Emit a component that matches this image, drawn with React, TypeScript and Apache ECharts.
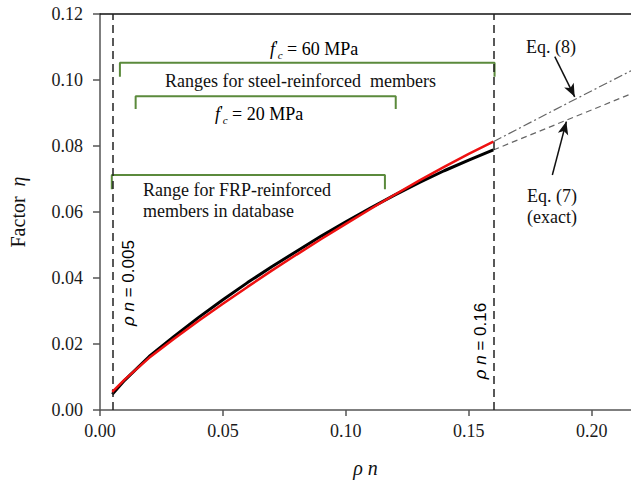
import React, { useEffect, useRef } from "react";
import * as echarts from "echarts";

// ---- data ----
const rhoN = [0.005, 0.01, 0.02, 0.03, 0.04, 0.05, 0.06, 0.07, 0.08, 0.09, 0.1, 0.11, 0.12, 0.13, 0.14, 0.15, 0.16];
const eq7Exact = [0.0048, 0.009, 0.0162, 0.0222, 0.028, 0.0334, 0.0386, 0.0435, 0.0481, 0.0527, 0.057, 0.0612, 0.0652, 0.069, 0.0725, 0.0757, 0.0788];
const eq8 = [0.0055, 0.0092, 0.0158, 0.0215, 0.027, 0.0322, 0.0373, 0.0423, 0.0471, 0.0518, 0.0564, 0.0609, 0.0653, 0.0696, 0.0737, 0.0776, 0.0813];
const extRhoN = [0.16, 0.19, 0.216];
const eq7Ext = [0.0788, 0.0879, 0.0958];
const eq8Ext = [0.0813, 0.0929, 0.1028];
const limitLines = [0.005, 0.16];
// range brackets: [xStart, xEnd, yBar, yTickEnd]
const bracketFc60 = [0.0081, 0.1605, 0.1052, 0.101];
const bracketFc20 = [0.0145, 0.1203, 0.0951, 0.0912];
const bracketFRP = [0.0048, 0.1159, 0.0712, 0.0669];
// arrows: [xFrom, yFrom, xTo, yTo]
const arrowEq8 = [0.185, 0.1071, 0.1931, 0.0949];
const arrowEq7 = [0.184, 0.0712, 0.1897, 0.0874];
const xTicks = { min: 0, max: 0.216, interval: 0.05 };
const yTicks = { min: 0, max: 0.12, interval: 0.02 };

const SERIF = "'Liberation Serif', 'Times New Roman', serif";
const SANS = "'Liberation Sans', Arial, sans-serif";
const GREEN = "#5b8a3c";

function bracket(b: number[]) {
  return [
    [b[0], b[3]],
    [b[0], b[2]],
    [b[1], b[2]],
    [b[1], b[3]],
  ];
}

export default function App() {
  const ref = useRef<HTMLDivElement>(null);
  useEffect(() => {
    if (!ref.current) return;
    const chart = echarts.init(ref.current, null, { renderer: "svg" });
    const bracketSeries = (b: number[]) => ({
      type: "line",
      data: bracket(b),
      symbol: "none",
      silent: true,
      lineStyle: { color: GREEN, width: 2 },
      z: 3,
    });
    const fcRich = {
      i: { fontFamily: SERIF, fontStyle: "italic", fontSize: 18, lineHeight: 22, color: "#111" },
      p: { fontFamily: SERIF, fontSize: 15, lineHeight: 16, verticalAlign: "top", color: "#111" },
      s: { fontFamily: SERIF, fontStyle: "italic", fontSize: 11, lineHeight: 12, verticalAlign: "bottom", color: "#111" },
      n: { fontFamily: SERIF, fontSize: 18, lineHeight: 22, color: "#111" },
    };
    const vRich = {
      i: { fontFamily: SANS, fontStyle: "italic", fontSize: 17, color: "#333" },
      n: { fontFamily: SANS, fontSize: 17, color: "#333" },
    };
    chart.setOption({
      animation: false,
      grid: { left: 100, right: 0, top: 14, bottom: 77, containLabel: false, outerBoundsMode: "none" },
      xAxis: [
        {
          type: "value",
          min: xTicks.min,
          max: xTicks.max,
          interval: xTicks.interval,
          name: "ρ n",
          nameLocation: "middle",
          nameGap: 48,
          nameTextStyle: { fontFamily: SERIF, fontStyle: "italic", fontSize: 20, color: "#111" },
          axisLine: { lineStyle: { color: "#555", width: 1.5 } },
          axisTick: { inside: false, length: 6, lineStyle: { color: "#555", width: 1.5 } },
          axisLabel: {
            margin: 12,
            fontFamily: SERIF,
            fontSize: 18,
            color: "#1a1a1a",
            showMaxLabel: false,
            formatter: (v: number) => (Math.abs(v / 0.05 - Math.round(v / 0.05)) < 1e-6 ? v.toFixed(2) : ""),
          },
          splitLine: { show: false },
        },
        {
          type: "value",
          position: "top",
          min: xTicks.min,
          max: xTicks.max,
          axisLine: { show: true, lineStyle: { color: "#111", width: 1.5 } },
          axisTick: { show: false },
          axisLabel: { show: false },
          splitLine: { show: false },
        },
      ],
      yAxis: {
        type: "value",
        min: yTicks.min,
        max: yTicks.max,
        interval: yTicks.interval,
        name: "{n|Factor}{s|  }{i|η}",
        nameLocation: "middle",
        nameRotate: 90,
        nameGap: 72,
        nameTextStyle: {
          rich: {
            n: { fontFamily: SERIF, fontSize: 20, color: "#111" },
            s: { fontFamily: SERIF, fontSize: 20 },
            i: { fontFamily: SERIF, fontStyle: "italic", fontSize: 20, color: "#111" },
          },
        },
        axisLine: { show: true, lineStyle: { color: "#555", width: 1.5 } },
        axisTick: { show: true, inside: false, length: 7, lineStyle: { color: "#555", width: 1.5 } },
        axisLabel: {
          margin: 17,
          fontFamily: SERIF,
          fontSize: 18,
          color: "#1a1a1a",
          formatter: (v: number) => v.toFixed(2),
        },
        splitLine: { show: false },
      },
      series: [
        {
          name: "Eq. (7) exact",
          type: "line",
          data: rhoN.map((x, i) => [x, eq7Exact[i]]),
          symbol: "none",
          lineStyle: { color: "#000", width: 3 },
          z: 4,
          markLine: {
            silent: true,
            symbol: "none",
            label: { show: false },
            lineStyle: { color: "#222", width: 1.5, type: [8, 5] },
            data: limitLines.map((x) => [{ coord: [x, yTicks.min] }, { coord: [x, yTicks.max] }]),
          },
        },
        {
          name: "Eq. (8)",
          type: "line",
          data: rhoN.map((x, i) => [x, eq8[i]]),
          symbol: "none",
          lineStyle: { color: "#ee1111", width: 2.5 },
          z: 5,
          markLine: {
            silent: true,
            symbol: ["none", "arrow"],
            symbolSize: [8, 13],
            label: { show: false },
            lineStyle: { color: "#111", width: 1.5, type: "solid" },
            data: [arrowEq8, arrowEq7].map((a) => [{ coord: [a[0], a[1]] }, { coord: [a[2], a[3]] }]),
          },
        },
        {
          name: "Eq. (7) ext",
          type: "line",
          data: extRhoN.map((x, i) => [x, eq7Ext[i]]),
          symbol: "none",
          lineStyle: { color: "#666", width: 1.2, type: [6, 4] },
        },
        {
          name: "Eq. (8) ext",
          type: "line",
          data: extRhoN.map((x, i) => [x, eq8Ext[i]]),
          symbol: "none",
          lineStyle: { color: "#666", width: 1.2, type: [9, 3, 2, 3] },
        },
        bracketSeries(bracketFc60),
        bracketSeries(bracketFc20),
        bracketSeries(bracketFRP),
      ],
      graphic: [
        {
          type: "text",
          x: 270,
          y: 49,
          style: { text: "{i|f}{p|'}{s|c}{n| = 60 MPa}", rich: fcRich, verticalAlign: "middle" },
        },
        {
          type: "text",
          x: 215,
          y: 114,
          style: { text: "{i|f}{p|'}{s|c}{n| = 20 MPa}", rich: fcRich, verticalAlign: "middle" },
        },
        {
          type: "text",
          x: 165,
          y: 81,
          style: {
            text: "Ranges for steel-reinforced  members",
            fontFamily: SERIF,
            fontSize: 18,
            fill: "#111",
            verticalAlign: "middle",
          },
        },
        {
          type: "text",
          x: 143,
          y: 189,
          style: {
            text: "Range for FRP-reinforced\nmembers in database",
            fontFamily: SERIF,
            fontSize: 18,
            lineHeight: 21,
            fill: "#111",
            verticalAlign: "top",
            y: -10,
          },
        },
        {
          type: "text",
          x: 551,
          y: 47,
          style: { text: "Eq. (8)", fontFamily: SERIF, fontSize: 18, fill: "#111", align: "center", verticalAlign: "middle" },
        },
        {
          type: "text",
          x: 552,
          y: 206,
          style: {
            text: "Eq. (7)\n(exact)",
            fontFamily: SERIF,
            fontSize: 18,
            lineHeight: 21,
            fill: "#111",
            align: "center",
            verticalAlign: "middle",
          },
        },
        {
          type: "text",
          x: 128,
          y: 283,
          rotation: Math.PI / 2,
          style: { text: "{i|ρ n}{n| = 0.005}", rich: vRich, align: "center", verticalAlign: "middle" },
        },
        {
          type: "text",
          x: 480,
          y: 341,
          rotation: Math.PI / 2,
          style: { text: "{i|ρ n}{n| = 0.16}", rich: vRich, align: "center", verticalAlign: "middle" },
        },
      ],
    });
    return () => chart.dispose();
  }, []);
  return <div ref={ref} style={{ width: 631, height: 487, position: "absolute", left: 0, top: 0 }} />;
}
